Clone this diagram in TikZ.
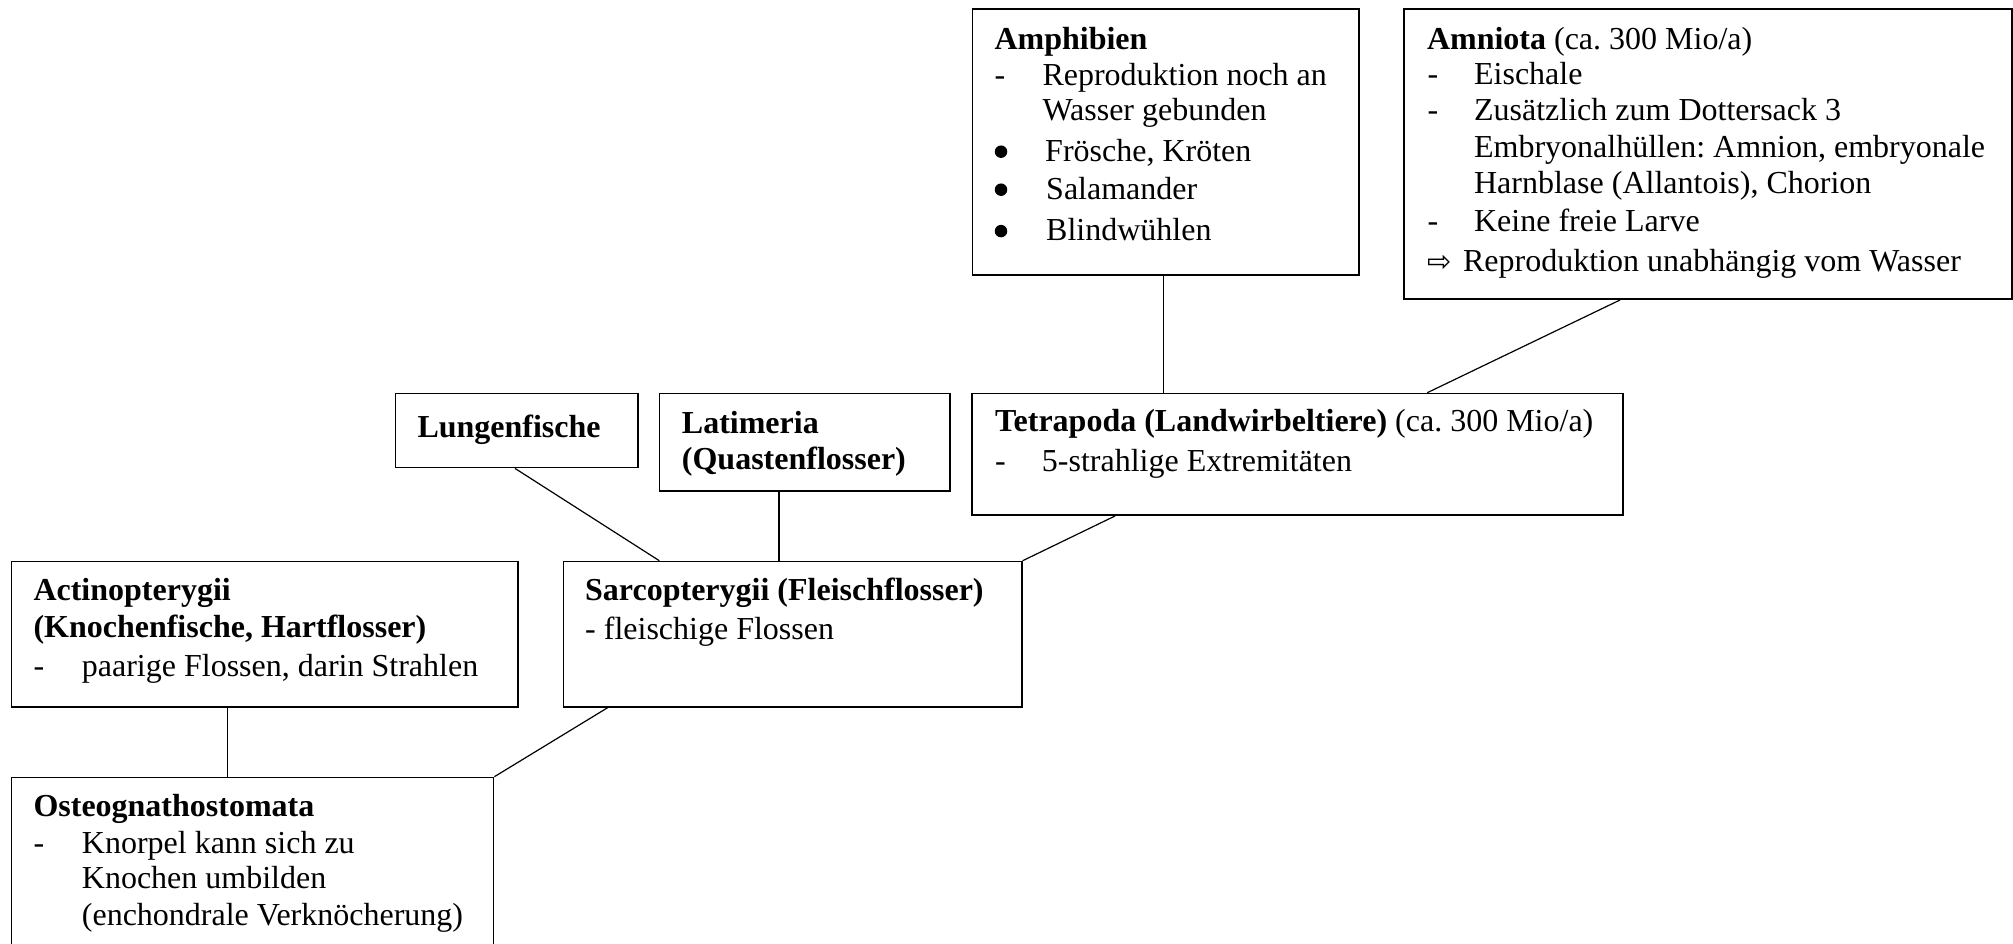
\documentclass[tikz,border=0pt]{standalone}
\usepackage{fontspec}
\setmainfont{Liberation Serif}
\newfontfamily\arrowfont{DejaVu Sans}
\frenchspacing
\begin{document}
\begin{tikzpicture}[x=1pt,y=-1pt,
  box/.style={draw, line width=1.7pt, inner sep=0pt, anchor=north west},
  tx/.style={anchor=base west, inner sep=0pt, font=\fontsize{32}{36.8}\selectfont\frenchspacing},
  bul/.style={circle, fill, inner sep=0pt, minimum size=12.5pt},
  link/.style={line width=1.2pt}]
\fill[white] (0,0) rectangle (2013,944);
\useasboundingbox (0,0) rectangle (2013,944);

% boxes
\node[box, minimum width=386.5pt, minimum height=266pt] (amph) at (971.5,8) {};
\node[box, minimum width=607.7pt, minimum height=290.3pt] (amn) at (1403.3,8) {};
\node[box, minimum width=651pt, minimum height=121.6pt] (tet) at (971,392.7) {};
\node[box, minimum width=242.6pt, minimum height=74pt] (lung) at (394.7,392.7) {};
\node[box, minimum width=290.6pt, minimum height=97.3pt] (lat) at (658.7,392.7) {};
\node[box, minimum width=506.3pt, minimum height=145.3pt] (act) at (10.7,560.7) {};
\node[box, minimum width=458.3pt, minimum height=145.3pt] (sar) at (562.7,560.7) {};
\node[box, minimum width=482pt, minimum height=200pt] (ost) at (10.7,776.7) {};

% Amphibien
\node[tx] (amph1) at (994.3,49.3) {\textbf{Amphibien}};
\node[tx] (amph2d) at (994.3,86) {-};
\node[tx] (amph2) at (1042.3,86) {Reproduktion noch an};
\node[tx] (amph3) at (1042.3,120.5) {Wasser gebunden};
\node[bul] (amph4b) at (1001,151.7) {};
\node[tx] (amph4) at (1045,161.3) {Frösche, Kröten};
\node[bul] (amph5b) at (1001,189.7) {};
\node[tx] (amph5) at (1046,199.3) {Salamander};
\node[bul] (amph6b) at (1001,231.1) {};
\node[tx] (amph6) at (1046,240.7) {Blindwühlen};

% Amniota
\node[tx] (amn1) at (1426.8,49.3) {\textbf{Amniota} (ca. 300 Mio/a)};
\node[tx] (amn2d) at (1427.5,85) {-};
\node[tx] (amn2) at (1473.9,85) {Eischale};
\node[tx] (amn3d) at (1427.5,120.7) {-};
\node[tx] (amn3) at (1473.9,120.7) {Zusätzlich zum Dottersack 3};
\node[tx] (amn4) at (1473.9,157.3) {Embryonalhüllen: Amnion, embryonale};
\node[tx] (amn5) at (1473.9,194) {Harnblase (Allantois), Chorion};
\node[tx] (amn6d) at (1427.5,231.7) {-};
\node[tx] (amn6) at (1473.9,231.7) {Keine freie Larve};
\node[tx, font=\fontsize{29}{29}\arrowfont] (amn7a) at (1427,271.7) {⇨};
\node[tx] (amn7) at (1462.9,271.7) {Reproduktion unabhängig vom Wasser};

% Tetrapoda
\node[tx] (tet1) at (995,431.7) {\textbf{Tetrapoda (Landwirbeltiere)} (ca. 300 Mio/a)};
\node[tx] (tet2d) at (995,471.7) {-};
\node[tx] (tet2) at (1041.7,471.7) {5-strahlige Extremitäten};

% Lungenfische
\node[tx] (lung1) at (417.3,437.3) {\textbf{Lungenfische}};

% Latimeria
\node[tx] (lat1) at (681.7,433.3) {\textbf{Latimeria}};
\node[tx] (lat2) at (681.7,469.3) {\textbf{(Quastenflosser)}};

% Actinopterygii
\node[tx] (act1) at (33.3,600.7) {\textbf{Actinopterygii}};
\node[tx] (act2) at (33.3,637.3) {\textbf{(Knochenfische, Hartflosser)}};
\node[tx] (act3d) at (33.3,676.7) {-};
\node[tx] (act3) at (81.7,676.7) {paarige Flossen, darin Strahlen};

% Sarcopterygii
\node[tx] (sar1) at (585,600.7) {\textbf{Sarcopterygii (Fleischflosser)}};
\node[tx] (sar2) at (585,639.3) {- fleischige Flossen};

% Osteognathostomata
\node[tx] (ost1) at (33.3,816.7) {\textbf{Osteognathostomata}};
\node[tx] (ost2d) at (33.3,853.3) {-};
\node[tx] (ost2) at (81.7,853.3) {Knorpel kann sich zu};
\node[tx] (ost3) at (81.7,888.8) {Knochen umbilden};
\node[tx] (ost4) at (81.7,925.5) {(enchondrale Verknöcherung)};

% connectors
\draw[link] ([xshift=191.8pt]amph.south west) -- ([xshift=192.3pt]tet.north west);
\draw[link] ([xshift=216.7pt]amn.south west) -- ([xshift=456.3pt]tet.north west);
\draw[link] ([xshift=144pt]tet.south west) -- (sar.north east);
\draw[link] ([xshift=120.3pt]lung.south west) -- ([xshift=96.6pt]sar.north west);
\draw[link] ([xshift=120.3pt]lat.south west) -- ([xshift=216.3pt]sar.north west);
\draw[link] ([xshift=216.6pt]act.south west) -- ([xshift=216.6pt]ost.north west);
\draw[link] ([xshift=44.9pt]sar.south west) -- (ost.north east);
\end{tikzpicture}
\end{document}
